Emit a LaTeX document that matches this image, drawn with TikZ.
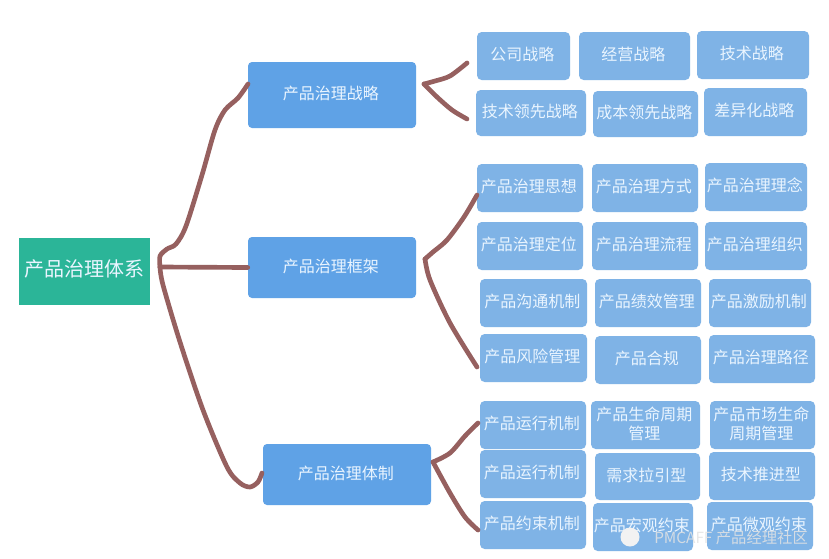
\documentclass[tikz,border=0pt]{standalone}
\usepackage{fontspec}
\setmainfont{Noto Sans CJK SC}
\definecolor{rootc}{HTML}{2BB598}
\definecolor{midc}{HTML}{5FA2E6}
\definecolor{leafc}{HTML}{7FB3E6}
\definecolor{linec}{HTML}{96605F}
\definecolor{txtc}{HTML}{EAF5FF}
\tikzset{
  boxbase/.style={inner sep=0pt,draw=none},
  leafbox/.style={boxbase,fill=leafc,rounded corners=3.5pt},
  midbox/.style={boxbase,fill=midc,rounded corners=3pt},
  rootbox/.style={boxbase,fill=rootc},
  lefttxt/.style={text=txtc,font=\fontsize{12}{14.5}\selectfont,align=center,inner sep=0pt,xshift=-0.8pt,yshift=1pt},
  roottxt/.style={text=txtc,font=\fontsize{15}{18}\selectfont,align=center,inner sep=0pt,yshift=2.2pt},
  conn/.style={draw=linec,line width=3.5pt,line cap=round,line join=round},
  mark text/.style={text=white!78!gray,text opacity=0.85,font=\fontsize{11.5}{14}\selectfont,inner sep=0pt,anchor=west}
}
% name, style, x1, y1, x2, y2, text, text style
\newcommand{\bx}[8]{%
  \node[#2,minimum width={(#5-#3)*0.75pt},minimum height={(#6-#4)*0.75pt}] (#1) at ({(#3+#5)/2},{(#4+#6)/2}) {};
  \node[#8] (#1t) at (#1.center) {#7};
}
\begin{document}
\begin{tikzpicture}[x=0.75pt,y=-0.75pt]
\useasboundingbox (0,0) rectangle (829,558);
\fill[white] (0,0) rectangle (829,558);
\bx{root}{rootbox}{19}{238}{150}{305}{产品治理体系}{roottxt}
\bx{ma}{midbox}{248}{62}{416}{128}{产品治理战略}{lefttxt}
\bx{mb}{midbox}{248}{237}{416}{298}{产品治理框架}{lefttxt}
\bx{mc}{midbox}{263}{444}{431}{505}{产品治理体制}{lefttxt}
% leaves
\bx{a1}{leafbox}{477}{32}{570}{80}{公司战略}{lefttxt}
\bx{a2}{leafbox}{579}{32}{690}{80}{经营战略}{lefttxt}
\bx{a3}{leafbox}{697}{31}{809}{79}{技术战略}{lefttxt}
\bx{a4}{leafbox}{476}{90}{586}{136}{技术领先战略}{lefttxt}
\bx{a5}{leafbox}{593}{91}{698}{137}{成本领先战略}{lefttxt}
\bx{a6}{leafbox}{704}{88}{807}{136}{差异化战略}{lefttxt}
\bx{b1}{leafbox}{477}{164}{583}{212}{产品治理思想}{lefttxt}
\bx{b2}{leafbox}{592}{164}{698}{212}{产品治理方式}{lefttxt}
\bx{b3}{leafbox}{705}{163}{807}{211}{产品治理理念}{lefttxt}
\bx{b4}{leafbox}{477}{222}{583}{270}{产品治理定位}{lefttxt}
\bx{b5}{leafbox}{592}{222}{698}{270}{产品治理流程}{lefttxt}
\bx{b6}{leafbox}{705}{222}{807}{270}{产品治理组织}{lefttxt}
\bx{b7}{leafbox}{480}{279}{587}{327}{产品沟通机制}{lefttxt}
\bx{b8}{leafbox}{595}{279}{701}{327}{产品绩效管理}{lefttxt}
\bx{b9}{leafbox}{709}{279}{811}{327}{产品激励机制}{lefttxt}
\bx{b10}{leafbox}{480}{334}{587}{382}{产品风险管理}{lefttxt}
\bx{b11}{leafbox}{595}{336}{701}{384}{产品合规}{lefttxt}
\bx{b12}{leafbox}{709}{335}{815}{383}{产品治理路径}{lefttxt}
\bx{c1}{leafbox}{480}{401}{586}{449}{产品运行机制}{lefttxt}
\bx{c2}{leafbox}{591}{401}{700}{449}{产品生命周期\\管理}{lefttxt}
\bx{c3}{leafbox}{710}{401}{815}{449}{产品市场生命\\周期管理}{lefttxt}
\bx{c4}{leafbox}{480}{450}{586}{498}{产品运行机制}{lefttxt}
\bx{c5}{leafbox}{595}{453}{700}{500}{需求拉引型}{lefttxt}
\bx{c6}{leafbox}{709}{452}{815}{500}{技术推进型}{lefttxt}
\bx{c7}{leafbox}{480}{501}{586}{549}{产品约束机制}{lefttxt}
\bx{c8}{leafbox}{593}{503}{693}{551}{产品宏观约束}{lefttxt}
\bx{c9}{leafbox}{707}{502}{813}{550}{产品微观约束}{lefttxt}
% hubs and free ends
\coordinate (hub) at (160,267);
\coordinate (endA) at (248,84);
\coordinate (endC) at (262,473);
\coordinate (hubA) at (424,84);
\coordinate (hubB) at (425,259);
\coordinate (hubC) at (433,462);
\coordinate (a1e) at (467,63);
\coordinate (a4e) at (467,119);
\coordinate (b1e) at (477,195);
\coordinate (b10e) at (477,367);
\coordinate (c1e) at (478,423);
\coordinate (c7e) at (478,530);
% root connectors
\draw[conn] (hub) -- (mb.west);
\draw[conn] plot[smooth,tension=0.5] coordinates {(hub) (160,256) (167,249) (176,244) (186,226) (202,175) (215,130) (225,110) (238,98) (endA)};
\draw[conn] plot[smooth,tension=0.5] coordinates {(hub) (163,285) (180,342) (203,410) (227,467) (240,483) (250,487) (258,482) (endC)};
% mid connectors
\draw[conn] plot[smooth,tension=0.5] coordinates {(a1e) (450,76) (435,81) (hubA)};
\draw[conn] plot[smooth,tension=0.5] coordinates {(hubA) (437,97) (452,110) (a4e)};
\draw[conn] plot[smooth,tension=0.5] coordinates {(b1e) (464,217) (447,240) (433,252) (hubB)};
\draw[conn] plot[smooth,tension=0.5] coordinates {(hubB) (430,280) (450,323) (b10e)};
\draw[conn] plot[smooth,tension=0.5] coordinates {(c1e) (465,436) (450,453) (hubC)};
\draw[conn] plot[smooth,tension=0.5] coordinates {(hubC) (450,493) (465,517) (c7e)};
% watermark
\fill[white!90!gray] (630,537) circle[radius=9.5];
\node[mark text] (wm) at (654,538) {PMCAFF 产品经理社区};
\end{tikzpicture}
\end{document}
